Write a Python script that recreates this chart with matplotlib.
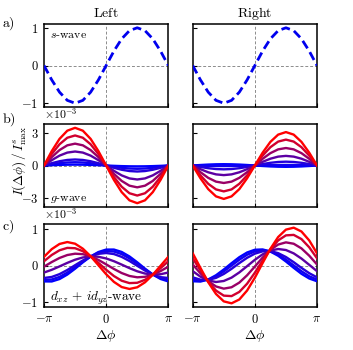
import numpy as np
import matplotlib
matplotlib.use("Agg")
import matplotlib.pyplot as plt

plt.rcParams['mathtext.fontset'] = 'cm'
plt.rcParams['font.family'] = 'serif'
plt.rcParams['font.serif'] = ['DejaVu Serif']

# phase difference grid, -pi .. pi in steps of pi/8
dphi = np.linspace(-np.pi, np.pi, 17)

# a) s-wave, same on both sides
s_left = [0, -0.383, -0.707, -0.924, -1, -0.924, -0.707, -0.383, 0,
          0.383, 0.707, 0.924, 1, 0.924, 0.707, 0.383, 0]
s_right = [0, -0.383, -0.707, -0.924, -1, -0.924, -0.707, -0.383, 0,
           0.383, 0.707, 0.924, 1, 0.924, 0.707, 0.383, 0]

# b) g-wave (units of 1e-3), ordered blue -> red
g_left = [
    [0, 0.031, 0.057, 0.074, 0.08, 0.074, 0.057, 0.031, 0, -0.031, -0.057, -0.074, -0.08, -0.074, -0.057, -0.031, 0],
    [0, 0.115, 0.212, 0.277, 0.30, 0.277, 0.212, 0.115, 0, -0.115, -0.212, -0.277, -0.30, -0.277, -0.212, -0.115, 0],
    [0, 0.211, 0.389, 0.508, 0.55, 0.508, 0.389, 0.211, 0, -0.211, -0.389, -0.508, -0.55, -0.508, -0.389, -0.211, 0],
    [0, 0.490, 0.905, 1.183, 1.28, 1.183, 0.905, 0.490, 0, -0.490, -0.905, -1.183, -1.28, -1.183, -0.905, -0.490, 0],
    [0, 0.766, 1.414, 1.848, 2.0, 1.848, 1.414, 0.766, 0, -0.766, -1.414, -1.848, -2.0, -1.848, -1.414, -0.766, 0],
    [0, 1.053, 1.944, 2.541, 2.75, 2.541, 1.944, 1.053, 0, -1.053, -1.944, -2.541, -2.75, -2.541, -1.944, -1.053, 0],
    [0, 1.321, 2.439, 3.188, 3.45, 3.188, 2.439, 1.321, 0, -1.321, -2.439, -3.188, -3.45, -3.188, -2.439, -1.321, 0],
]
g_right = [
    [0, 0.046, 0.085, 0.111, 0.12, 0.111, 0.085, 0.046, 0, -0.046, -0.085, -0.111, -0.12, -0.111, -0.085, -0.046, 0],
    [0, -0.019, -0.035, -0.046, -0.05, -0.046, -0.035, -0.019, 0, 0.019, 0.035, 0.046, 0.05, 0.046, 0.035, 0.019, 0],
    [0, -0.134, -0.247, -0.323, -0.35, -0.323, -0.247, -0.134, 0, 0.134, 0.247, 0.323, 0.35, 0.323, 0.247, 0.134, 0],
    [0, -0.337, -0.622, -0.813, -0.88, -0.813, -0.622, -0.337, 0, 0.337, 0.622, 0.813, 0.88, 0.813, 0.622, 0.337, 0],
    [0, -0.613, -1.131, -1.478, -1.6, -1.478, -1.131, -0.613, 0, 0.613, 1.131, 1.478, 1.6, 1.478, 1.131, 0.613, 0],
    [0, -0.908, -1.676, -2.190, -2.37, -2.190, -1.676, -0.908, 0, 0.908, 1.676, 2.190, 2.37, 2.190, 1.676, 0.908, 0],
    [0, -1.172, -2.163, -2.827, -3.06, -2.827, -2.163, -1.172, 0, 1.172, 2.163, 2.827, 3.06, 2.827, 2.163, 1.172, 0],
]

# c) dxz + i dyz wave (units of 1e-3), ordered blue -> red
d_left = [
    [-0.441, -0.442, -0.375, -0.251, -0.089, 0.087, 0.249, 0.373, 0.441, 0.442, 0.375, 0.251, 0.089, -0.087, -0.249, -0.373, -0.441],
    [-0.400, -0.388, -0.316, -0.197, -0.047, 0.110, 0.250, 0.352, 0.400, 0.388, 0.316, 0.197, 0.047, -0.110, -0.250, -0.352, -0.400],
    [-0.346, -0.317, -0.239, -0.125, 0.008, 0.140, 0.250, 0.323, 0.346, 0.317, 0.239, 0.125, -0.008, -0.140, -0.250, -0.323, -0.346],
    [-0.195, -0.119, -0.025, 0.073, 0.160, 0.223, 0.251, 0.242, 0.195, 0.119, 0.025, -0.073, -0.160, -0.223, -0.251, -0.242, -0.195],
    [-0.032, 0.096, 0.209, 0.290, 0.327, 0.314, 0.254, 0.155, 0.032, -0.096, -0.209, -0.290, -0.327, -0.314, -0.254, -0.155, -0.032],
    [0.118, 0.292, 0.422, 0.488, 0.479, 0.397, 0.255, 0.075, -0.118, -0.292, -0.422, -0.488, -0.479, -0.397, -0.255, -0.075, 0.118],
    [0.241, 0.454, 0.597, 0.650, 0.604, 0.466, 0.257, 0.009, -0.241, -0.454, -0.597, -0.650, -0.604, -0.466, -0.257, -0.009, 0.241],
]
d_right = [
    [-0.436, -0.445, -0.387, -0.270, -0.111, 0.064, 0.230, 0.360, 0.436, 0.445, 0.387, 0.270, 0.111, -0.064, -0.230, -0.360, -0.436],
    [-0.390, -0.423, -0.392, -0.301, -0.164, -0.002, 0.160, 0.298, 0.390, 0.423, 0.392, 0.301, 0.164, 0.002, -0.160, -0.298, -0.390],
    [-0.328, -0.393, -0.398, -0.343, -0.235, -0.092, 0.066, 0.213, 0.328, 0.393, 0.398, 0.343, 0.235, 0.092, -0.066, -0.213, -0.328],
    [-0.157, -0.309, -0.414, -0.457, -0.429, -0.336, -0.192, -0.019, 0.157, 0.309, 0.414, 0.457, 0.429, 0.336, 0.192, 0.019, -0.157],
    [0.029, -0.219, -0.433, -0.581, -0.641, -0.603, -0.474, -0.272, -0.029, 0.219, 0.433, 0.581, 0.641, 0.603, 0.474, 0.272, 0.029],
    [0.200, -0.135, -0.449, -0.695, -0.835, -0.848, -0.732, -0.505, -0.200, 0.135, 0.449, 0.695, 0.835, 0.848, 0.732, 0.505, 0.200],
    [0.339, -0.068, -0.463, -0.789, -0.994, -1.048, -0.942, -0.694, -0.339, 0.068, 0.463, 0.789, 0.994, 1.048, 0.942, 0.694, 0.339],
]

# colour mix parameter blue -> red
mix = [0, 0.06, 0.14, 0.36, 0.6, 0.82, 1.0]
colors = [(m, 0, 1 - m) for m in mix]

fig = plt.figure(figsize=(3.53, 3.5), dpi=100)
W, H = 353, 350
def px_axes(x0, top, w, h):
    return fig.add_axes([x0 / W, (H - top - h) / H, w / W, h / H])

lefts = [44, 192.7]
tops = [24, 124, 224]
axs = [[px_axes(l, t, 124.3, 83) for l in lefts] for t in tops]

ylims = [(-1.1, 1.1), (-3.8, 3.8), (-1.15, 1.15)]
yticks = [[-1, 0, 1], [-3, 0, 3], [-1, 0, 1]]
ytl = [[r'$-1$', r'$0$', r'$1$'], [r'$-3$', r'$0$', r'$3$'], [r'$-1$', r'$0$', r'$1$']]

for r in range(3):
    for c in range(2):
        ax = axs[r][c]
        ax.axhline(0, color='0.55', lw=0.7, dashes=(3, 2), zorder=1)
        ax.axvline(0, color='0.55', lw=0.7, dashes=(3, 2), zorder=1)
        ax.set_xlim(-np.pi, np.pi)
        ax.set_ylim(*ylims[r])
        ax.set_xticks([-np.pi, 0, np.pi])
        ax.set_yticks(yticks[r])
        ax.tick_params(direction='in', length=3, width=0.8, labelsize=9, pad=4)
        for sp in ax.spines.values():
            sp.set_linewidth(1.1)
        if c == 0:
            ax.set_yticklabels(ytl[r])
        else:
            ax.set_yticklabels([])
        if r == 2:
            ax.set_xticklabels([r'$-\pi$', r'$0$', r'$\pi$'])
            ax.set_xlabel(r'$\Delta\phi$', fontsize=10, labelpad=2)
        else:
            ax.set_xticklabels([])

# a) s-wave
axs[0][0].plot(dphi, s_left, color='#0000ee', lw=2, dashes=(3.2, 1.6), zorder=3)
axs[0][1].plot(dphi, s_right, color='#0000ee', lw=2, dashes=(3.2, 1.6), zorder=3)

# b) and c)
for row, dl, dr in [(1, g_left, g_right), (2, d_left, d_right)]:
    for k in range(len(mix)):
        axs[row][0].plot(dphi, dl[k], color=colors[k], lw=1.7, zorder=3)
        axs[row][1].plot(dphi, dr[k], color=colors[k], lw=1.7, zorder=3)

axs[0][0].set_title(r'$\mathrm{Left}$', fontsize=10, pad=5)
axs[0][1].set_title(r'$\mathrm{Right}$', fontsize=10, pad=5)

axs[0][0].text(0.05, 0.95, r'$s\mathrm{\text{-}wave}$', transform=axs[0][0].transAxes,
               fontsize=8.5, va='top', ha='left')
axs[1][0].text(0.05, 0.07, r'$g\mathrm{\text{-}wave}$', transform=axs[1][0].transAxes,
               fontsize=8.5, va='baseline', ha='left')
axs[2][0].text(0.05, 0.07, r'$d_{xz}\,+\,id_{yz}\mathrm{\text{-}wave}$', transform=axs[2][0].transAxes,
               fontsize=9.5, va='baseline', ha='left')

for r in (1, 2):
    axs[r][0].text(0.0, 1.03, r'$\times10^{-3}$', transform=axs[r][0].transAxes,
                   fontsize=8.5, va='bottom', ha='left')

# y label sits a bit above the centre of panel b, right of the "b)" tag
fig.text(19 / W, 1 - 161 / H, r'$I(\Delta\phi)\,/\,I^s_{\mathrm{max}}$', fontsize=9.5,
         rotation=90, va='center', ha='center')

for lab, ypix in [('a)', 24), ('b)', 120), ('c)', 227)]:
    fig.text(2 / W, 1 - ypix / H, r'$\mathrm{' + lab + '}$', fontsize=10, va='center', ha='left')

fig.savefig('out.png', dpi=100)
